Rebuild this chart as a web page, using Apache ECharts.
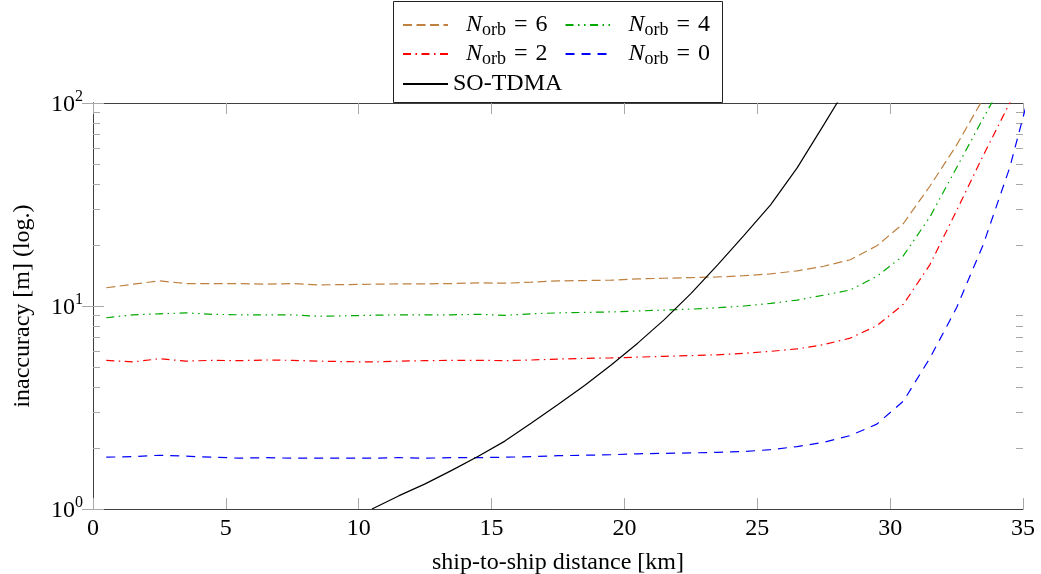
<!DOCTYPE html>
<html>
<head>
<meta charset="utf-8">
<script src="https://cdn.jsdelivr.net/npm/echarts@6/dist/echarts.min.js"></script>
<style>html,body{margin:0;padding:0;background:#fff;}#c{width:1041px;height:574px;}</style>
</head>
<body>
<div id="c"></div>
<script>
// ship-to-ship distance [km]
const distance = [0.5,1.5,2.5,3.5,4.5,5.5,6.5,7.5,8.5,9.5,10.5,11.5,12.5,13.5,14.5,15.5,16.5,17.5,18.5,19.5,20.5,21.5,22.5,23.5,24.5,25.5,26.5,27.5,28.5,29.5,30.5,31.5,32.5,33.5,34.5,35.5];
// inaccuracy [m]
const norb6 = [12.3,12.8,13.3,12.9,12.9,12.9,12.8,12.9,12.7,12.75,12.8,12.85,12.85,12.9,13.0,12.95,13.1,13.3,13.35,13.4,13.6,13.7,13.8,13.9,14.1,14.4,14.9,15.7,16.9,19.8,25.5,39,62,105,170,280];
const norb4 = [8.75,9.05,9.15,9.25,9.1,9.05,9.05,9.05,8.9,8.95,9.0,9.05,9.05,9.05,9.1,9.0,9.15,9.25,9.3,9.35,9.45,9.55,9.65,9.8,10.0,10.3,10.7,11.3,12.0,14.0,17.7,27.5,48,84,145,250];
const norb2 = [5.4,5.3,5.5,5.35,5.4,5.38,5.42,5.4,5.35,5.32,5.3,5.35,5.38,5.4,5.4,5.38,5.42,5.48,5.52,5.55,5.6,5.65,5.7,5.75,5.85,5.98,6.15,6.45,6.95,8.0,10.2,16,29.5,55,100,185];
const norb0 = [1.8,1.81,1.84,1.82,1.8,1.78,1.79,1.78,1.78,1.78,1.78,1.79,1.78,1.79,1.79,1.8,1.81,1.83,1.84,1.85,1.87,1.88,1.89,1.9,1.92,1.96,2.03,2.13,2.3,2.62,3.4,5.55,9.8,20,48,150];
const soDistance = [10.5,11.5,12.5,13.5,14.5,15.5,16.5,17.5,18.5,19.5,20.5,21.5,22.5,23.5,24.5,25.5,26.5,27.5,28.5];
const soTdma = [1.0,1.16,1.33,1.55,1.82,2.16,2.65,3.27,4.06,5.12,6.56,8.57,11.5,15.9,22.3,31.5,47.9,78,128];
const xTicks = [0,5,10,15,20,25,30,35];
const yMinorTicks = [2,3,4,5,6,7,8,9,20,30,40,50,60,70,80,90];

const FONT = 'Liberation Serif';
const FS = 24;
const AXIS = '#404040';
const TICK = '#a8a8a8';

const zip = (xs, ys) => xs.map((x, i) => [x, ys[i]]);

const legendNames = {
  n6: '{sp|}{i|N}{s|orb}{q|=}{t|6}',
  n4: '{sp|}{i|N}{s|orb}{q|=}{t|4}',
  n2: '{sp|}{i|N}{s|orb}{q|=}{t|2}',
  n0: '{sp|}{i|N}{s|orb}{q|=}{t|0}',
  so: '{t|SO-TDMA}'
};
const legendRich = {
  sp: {width: 13, height: 26},
  i: {fontFamily: FONT, fontSize: FS, fontStyle: 'italic', color: '#000', lineHeight: 28},
  s: {fontFamily: FONT, fontSize: 18, color: '#000', verticalAlign: 'bottom', lineHeight: 15},
  q: {fontFamily: FONT, fontSize: FS, color: '#000', lineHeight: 28, padding: [0, 8, 0, 8]},
  t: {fontFamily: FONT, fontSize: FS, color: '#000', lineHeight: 28}
};
function mkLegend(names, top) {
  return {
    data: names, left: 402, top: top, orient: 'horizontal', padding: 0,
    itemWidth: 45, itemHeight: 14, itemGap: 17,
    formatter: n => legendNames[n],
    textStyle: {rich: legendRich, color: '#000'},
    itemStyle: {opacity: 0, borderWidth: 0},
    selectedMode: false
  };
}

const lineSeries = (name, data, color, type) => ({
  name, type: 'line', data, symbol: 'none', showSymbol: false, smooth: false,
  clip: true, animation: false,
  lineStyle: {color, width: 1.2, type},
  itemStyle: {color}
});

const option = {
  animation: false,
  backgroundColor: '#fff',
  grid: {left: 93, right: 18, top: 103, bottom: 65, containLabel: false, outerBoundsMode: 'none'},
  legend: [mkLegend(['n6','n4'], 13), mkLegend(['n2','n0'], 42), mkLegend(['so'], 72)],
  graphic: [{
    type: 'rect', shape: {x: 393.5, y: 1.5, width: 329, height: 101},
    style: {fill: 'none', stroke: '#222', lineWidth: 1}, z: 10
  }],
  xAxis: [{
    type: 'value', min: 0, max: 35, interval: 5, position: 'bottom',
    axisLine: {show: true, lineStyle: {color: AXIS, width: 1}},
    axisTick: {show: true, inside: true, length: 11, lineStyle: {color: TICK}},
    axisLabel: {fontFamily: FONT, fontSize: FS, color: '#000', margin: 8,
      formatter: v => xTicks.includes(v) ? String(v) : ''},
    splitLine: {show: false},
    name: 'ship-to-ship distance [km]', nameLocation: 'middle', nameGap: 42,
    nameTextStyle: {fontFamily: FONT, fontSize: FS, color: '#000'}
  }, {
    type: 'value', min: 0, max: 35, interval: 5, position: 'top',
    axisLine: {show: true, lineStyle: {color: AXIS, width: 1}},
    axisTick: {show: true, inside: true, length: 11, lineStyle: {color: TICK}},
    axisLabel: {show: false}, splitLine: {show: false}
  }],
  yAxis: [{
    type: 'log', logBase: 10, min: 1, max: 100, position: 'left',
    axisLine: {show: true, lineStyle: {color: AXIS, width: 1}},
    axisTick: {show: true, inside: true, length: 11, lineStyle: {color: TICK}},
    axisLabel: {
      margin: 10, color: '#000',
      formatter: v => '{b|10}{e|' + Math.round(Math.log10(v)) + '}',
      rich: {
        b: {fontFamily: FONT, fontSize: FS, color: '#000', lineHeight: 28, verticalAlign: 'bottom'},
        e: {fontFamily: FONT, fontSize: 16, color: '#000', lineHeight: 16, verticalAlign: 'top'}
      }
    },
    splitLine: {show: false},
    name: 'inaccuracy [m] (log.)', nameLocation: 'middle', nameGap: 58, nameRotate: 90,
    nameTextStyle: {fontFamily: FONT, fontSize: FS, color: '#000'}
  }, {
    type: 'log', logBase: 10, min: 1, max: 100, position: 'right',
    axisLine: {show: true, lineStyle: {color: AXIS, width: 1}},
    axisTick: {show: true, inside: true, length: 11, lineStyle: {color: TICK}},
    axisLabel: {show: false}, splitLine: {show: false}
  }],
  series: [
    {
      name: 'minor', type: 'custom', xAxisIndex: 0, yAxisIndex: 0, silent: true, z: 1,
      data: yMinorTicks.map(v => [0, v]),
      encode: {x: 0, y: 1},
      renderItem: (params, api) => {
        const v = api.value(1);
        const l = api.coord([0, v]);
        const r = api.coord([35, v]);
        const y = Math.round(l[1]) + 0.5;
        return {type: 'group', children: [
          {type: 'line', shape: {x1: l[0], y1: y, x2: l[0] + 7, y2: y}, style: {stroke: TICK, lineWidth: 1}},
          {type: 'line', shape: {x1: r[0] - 7, y1: y, x2: r[0], y2: y}, style: {stroke: TICK, lineWidth: 1}}
        ]};
      }
    },
    lineSeries('n6', zip(distance, norb6), '#bf8040', [9, 4.5]),
    lineSeries('n4', zip(distance, norb4), '#00a800', [8, 4.5, 1.5, 4.5, 1.5, 4.5]),
    lineSeries('n2', zip(distance, norb2), '#ff0000', [8, 4.5, 1.5, 4.5]),
    lineSeries('n0', zip(distance, norb0), '#0000ff', [9, 7]),
    lineSeries('so', zip(soDistance, soTdma), '#000000', 'solid')
  ]
};

const chart = echarts.init(document.getElementById('c'), null, {renderer: 'canvas'});
chart.setOption(option);
</script>
</body>
</html>
